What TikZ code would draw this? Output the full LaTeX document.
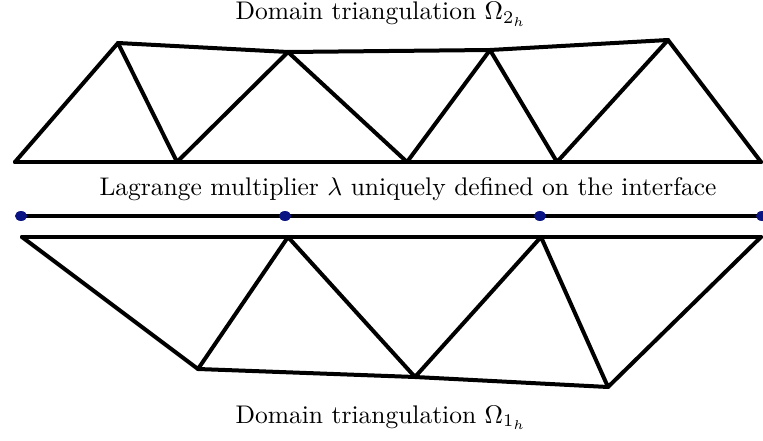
\documentclass[tikz,border=0pt]{standalone}
\begin{document}
\begin{tikzpicture}[x=1pt,y=-1pt,
  edge/.style={line width=4pt, line join=round, line cap=round},
  dot/.style={ellipse, fill=dotblue, inner sep=0pt, minimum width=12pt, minimum height=10pt},
  lbl/.style={font=\normalsize, inner sep=0pt, scale=2.55, anchor=base}]
\usetikzlibrary{shapes.geometric}
\definecolor{dotblue}{RGB}{10,20,130}
\useasboundingbox (0,0) rectangle (763,441);
% top triangulation
\coordinate (t1) at (15,162);
\coordinate (t2) at (177,162);
\coordinate (t3) at (407,162);
\coordinate (t4) at (557,162);
\coordinate (t5) at (761,162);
\coordinate (u1) at (118,43);
\coordinate (u2) at (288,52);
\coordinate (u3) at (490,50);
\coordinate (u4) at (668,40);
\draw[edge] (t1) -- (t5);
\draw[edge] (t1) -- (u1) -- (t2) -- (u2) -- (t3) -- (u3) -- (t4) -- (u4) -- (t5);
\draw[edge] (u1) -- (u2) -- (u3) -- (u4);
% interface
\coordinate (i1) at (21,216);
\coordinate (i2) at (285,216);
\coordinate (i3) at (540,216);
\coordinate (i4) at (762,216);
\draw[edge, line cap=butt] (i1) -- (i4);
\foreach \p in {i1,i2,i3,i4} \node[dot] at (\p) {};
% bottom triangulation
\coordinate (b1) at (22,237);
\coordinate (b2) at (288,237);
\coordinate (b3) at (541,237);
\coordinate (b4) at (761,237);
\coordinate (d1) at (198,369);
\coordinate (d2) at (415,377);
\coordinate (d3) at (608,387);
\draw[edge] (b1) -- (b4);
\draw[edge] (b1) -- (d1) -- (b2) -- (d2) -- (b3) -- (d3) -- (b4);
\draw[edge] (d1) -- (d2) -- (d3);
% labels
\node[lbl] (top) at (381,20) {Domain triangulation $\Omega_{2_h}$};
\node[lbl] (mid) at (408,195) {Lagrange multiplier $\lambda$ uniquely defined on the interface};
\node[lbl] (bot) at (381,423) {Domain triangulation $\Omega_{1_h}$};
\end{tikzpicture}
\end{document}
